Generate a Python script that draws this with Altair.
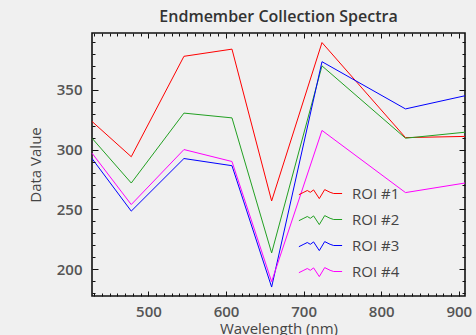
import altair as alt
import pandas as pd

# Data
wavelengths = [427.3, 477.9, 545.8, 607.7, 658.8, 723.7, 831.3, 908.0]
roi1 = [323.5, 294.0, 378.0, 384.0, 257.0, 389.5, 310.0, 311.0]
roi2 = [309.5, 272.0, 330.5, 326.5, 213.5, 370.0, 309.5, 314.5]
roi3 = [292.5, 248.5, 292.5, 286.5, 185.0, 373.5, 334.0, 345.0]
roi4 = [297.0, 254.0, 300.0, 290.0, 189.5, 316.0, 264.0, 272.0]
series_names = ["ROI #1", "ROI #2", "ROI #3", "ROI #4"]
series_colors = ["#ff0000", "#22a022", "#0000ff", "#ff00ff"]

x_major = [500, 600, 700, 800, 900]
x_minor = [v for v in range(430, 910, 10) if v not in x_major]
y_major = [200, 250, 300, 350]
y_minor = [v for v in range(180, 400, 10) if v not in y_major]

X_DOMAIN = [427.3, 908.0]
Y_DOMAIN = [177.5, 397.5]
W, H = 373, 263
PAD_L, PAD_T = 92, 33
FONT = "Open Sans"

rows = []
for name, vals in zip(series_names, [roi1, roi2, roi3, roi4]):
    for w, v in zip(wavelengths, vals):
        rows.append({"wl": w, "val": v, "roi": name})
df = pd.DataFrame(rows)

xs = alt.Scale(domain=X_DOMAIN, nice=False, zero=False)
ys = alt.Scale(domain=Y_DOMAIN, nice=False, zero=False)

x_axis = alt.Axis(title="Wavelength (nm)", values=x_major, ticks=False,
                  domain=False, grid=False, labelPadding=8, titlePadding=2)
y_axis = alt.Axis(title="Data Value", values=y_major, ticks=False,
                  domain=False, grid=False, labelPadding=10, titlePadding=13)


def tick_axis(orient, values, size, offset):
    # an axis flipped onto the opposite edge so its ticks point into the plot
    return alt.Axis(orient=orient, offset=offset, values=values, ticks=True,
                    tickSize=size, tickColor="#111", tickWidth=1, labels=False,
                    title=None, domain=False, grid=False, zindex=1)


squiggle = ("M-3.6,0.2L-2.9,-0.15L-2.2,-0.5L-1.7,-0.2L-1.15,-0.6"
            "L-0.2,0.85L0.7,-0.65L1.6,-0.2L2.2,0L3.6,0")

lines = alt.Chart(df).mark_line(strokeWidth=1).encode(
    x=alt.X("wl:Q", scale=xs, axis=x_axis),
    y=alt.Y("val:Q", scale=ys, axis=y_axis),
    color=alt.Color("roi:N",
                    scale=alt.Scale(domain=series_names, range=series_colors),
                    legend=alt.Legend(title=None, orient="none", legendX=221, legendY=153,
                                      symbolType=squiggle, symbolSize=144,
                                      symbolStrokeWidth=1, symbolFillColor="transparent",
                                      labelFontSize=15, labelFont=FONT, labelFontWeight=500,
                                      labelColor="#444", labelOffset=24, rowPadding=10,
                                      fillColor="transparent")),
    order="wl:Q",
)


def mirror(x_orient, x_vals, x_size, y_orient, y_vals, y_size):
    return alt.Chart(df).mark_point(opacity=0).encode(
        x=alt.X("wl:Q", scale=xs, axis=tick_axis(x_orient, x_vals, x_size, -H)),
        y=alt.Y("val:Q", scale=ys, axis=tick_axis(y_orient, y_vals, y_size, -W)),
    )


m1 = mirror("top", x_major, 5, "right", y_major, 6)      # bottom & left edges, major
m2 = mirror("top", x_minor, 3, "right", y_minor, 3)      # bottom & left edges, minor
m3 = mirror("bottom", x_major, 5, "left", y_major, 6)    # top & right edges, major
m4 = mirror("bottom", x_minor, 3, "left", y_minor, 3)    # top & right edges, minor

chart = alt.layer(lines, m1, m2, m3, m4).resolve_axis(
    x="independent", y="independent"
).properties(
    width=W, height=H,
    title=alt.Title("Endmember Collection Spectra", fontSize=16, font=FONT,
                    fontWeight=600, color="#333", offset=8),
    autosize=alt.AutoSizeParams(type="none"),
    padding={"left": PAD_L, "top": PAD_T, "right": 11, "bottom": 39},
    background="#f0f0f0",
).configure_view(
    stroke="#111", strokeWidth=1.6, fill="#f0f0f0"
).configure_axis(
    labelFont=FONT, labelFontSize=15, labelFontWeight=600, labelColor="#555",
    titleFont=FONT, titleFontSize=15, titleFontWeight=500, titleColor="#444",
)

chart.save("out.html", embed_options={"renderer": "svg", "actions": False})
